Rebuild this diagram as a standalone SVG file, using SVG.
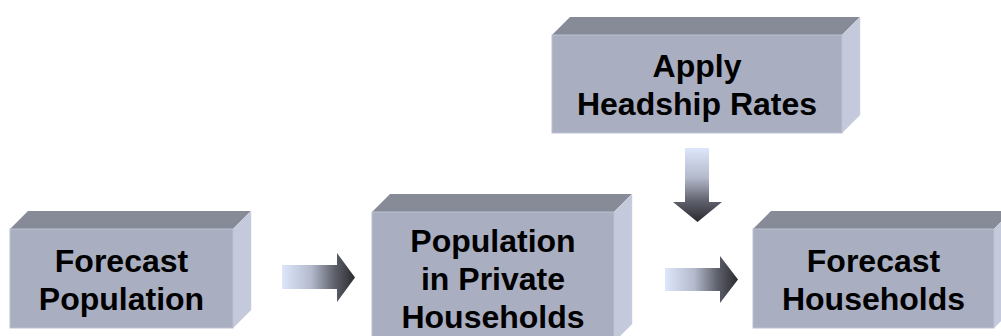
<svg xmlns="http://www.w3.org/2000/svg" width="1001" height="336" viewBox="0 0 1001 336">
  <style>
    .front { fill: #a9aec1; stroke: #bcc1d3; stroke-width: 1; }
    .top { fill: #878b98; }
    .side { fill: #c4c9dc; stroke: #cdd2e3; stroke-width: 0.5; }
    .label { font-family: "Liberation Sans", Arial, sans-serif; font-weight: bold; font-size: 32px; fill: #000; text-anchor: middle; }
  </style>
  <defs>
    <!-- shading from pale blue tail to dark head -->
    <linearGradient id="arrowH" x1="0" y1="0" x2="1" y2="0">
      <stop offset="0" stop-color="#dde6fa"/>
      <stop offset="0.4" stop-color="#b4bacc"/>
      <stop offset="0.72" stop-color="#5e606b"/>
      <stop offset="1" stop-color="#2a2a30"/>
    </linearGradient>
    <linearGradient id="arrowV" x1="0" y1="0" x2="0" y2="1">
      <stop offset="0" stop-color="#dde6fa"/>
      <stop offset="0.4" stop-color="#b4bacc"/>
      <stop offset="0.72" stop-color="#5e606b"/>
      <stop offset="1" stop-color="#2a2a30"/>
    </linearGradient>
  </defs>

  <rect width="1001" height="336" fill="#ffffff"/>

  <!-- block arrows -->
  <g id="connectors">
    <polygon id="arrow-population-to-private" fill="url(#arrowH)"
             points="282,265 337,265 337,253 355,277.5 337,302 337,289 282,289"/>
    <polygon id="arrow-private-to-households" fill="url(#arrowH)"
             points="665,268 720,268 720,256 738,279.5 720,303 720,291 665,291"/>
    <polygon id="arrow-headship-down" fill="url(#arrowV)"
             points="685,148 709,148 709,202 722,202 697.5,222 673,202 685,202"/>
  </g>

  <!-- Forecast Population -->
  <g id="node-forecast-population">
    <polygon class="top" points="10,229 28,211 251,211 233,229"/>
    <polygon class="side" points="233,229 251,211 251,310 233,328"/>
    <rect class="front" x="10" y="229" width="223" height="99"/>
    <text class="label" x="121.5" y="272">Forecast</text>
    <text class="label" x="121.5" y="310">Population</text>
  </g>

  <!-- Apply Headship Rates -->
  <g id="node-apply-headship-rates">
    <polygon class="top" points="552,35 570,17 860,17 842,35"/>
    <polygon class="side" points="842,35 860,17 860,115 842,133"/>
    <rect class="front" x="552" y="35" width="290" height="98"/>
    <text class="label" x="697" y="77">Apply</text>
    <text class="label" x="697" y="115">Headship Rates</text>
  </g>

  <!-- Population in Private Households -->
  <g id="node-population-private-households">
    <polygon class="top" points="372,212 390,194 632,194 614,212"/>
    <polygon class="side" points="614,212 632,194 632,324 614,342"/>
    <rect class="front" x="372" y="212" width="242" height="130"/>
    <text class="label" x="493" y="252">Population</text>
    <text class="label" x="493" y="290">in Private</text>
    <text class="label" x="493" y="328">Households</text>
  </g>

  <!-- Forecast Households -->
  <g id="node-forecast-households">
    <polygon class="top" points="753,229 771,211 1012,211 994,229"/>
    <polygon class="side" points="994,229 1012,211 1012,310 994,328"/>
    <rect class="front" x="753" y="229" width="241" height="99"/>
    <text class="label" x="873.5" y="272">Forecast</text>
    <text class="label" x="873.5" y="310">Households</text>
  </g>
</svg>
